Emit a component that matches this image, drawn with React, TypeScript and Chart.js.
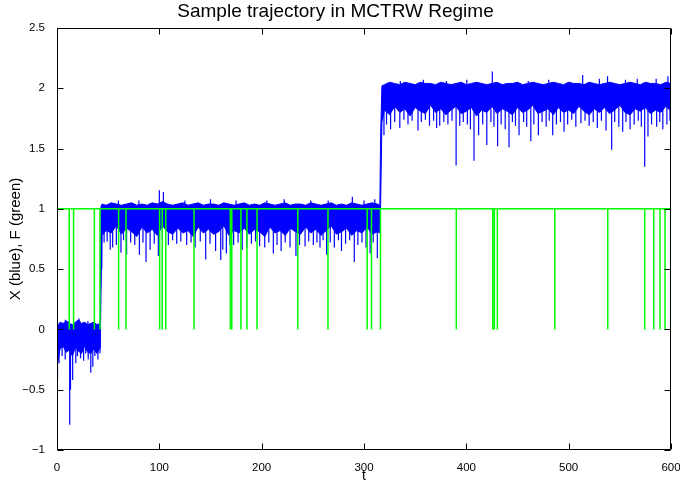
import React, { useEffect, useRef } from 'react';
import { Chart, registerables } from 'chart.js';

Chart.register(...registerables);

const titleText = 'Sample trajectory in MCTRW Regime';
const xLabel = 't';
const yLabel = 'X (blue), F (green)';
const xTicks = [0, 100, 200, 300, 400, 500, 600];
const yTicks = [-1, -0.5, 0, 0.5, 1, 1.5, 2, 2.5];

// X(t): band envelope, regime around 0
const lowT = [0, 3, 6, 9, 12, 15, 18, 21, 24, 27, 30, 33, 36, 39, 42.3];
const lowHi = [0.02, 0.06, 0.05, 0.07, 0.05, 0.04, 0.06, 0.08, 0.05, 0.06, 0.04, 0.05, 0.06, 0.04, 0.05];
const lowLo = [-0.3, -0.16, -0.14, -0.19, -0.17, -0.22, -0.15, -0.18, -0.2, -0.14, -0.19, -0.2, -0.16, -0.2, -0.15];

// regime around 1
const midT = [
  44, 48, 53, 58, 63, 68, 73, 78, 83, 88,
  93, 98, 103, 108, 113, 118, 123, 128, 133, 138,
  143, 148, 153, 158, 163, 168, 173, 178, 183, 188,
  193, 198, 203, 208, 213, 218, 223, 228, 233, 238,
  243, 248, 253, 258, 263, 268, 273, 278, 283, 288,
  293, 298, 303, 308, 313, 315.5,
];
const midHi = [
  1.04, 1.03, 1.05, 1.04, 1.03, 1.04, 1.05, 1.03, 1.04, 1.03,
  1.05, 1.04, 1.06, 1.04, 1.03, 1.04, 1.05, 1.03, 1.04, 1.05,
  1.03, 1.04, 1.04, 1.03, 1.05, 1.04, 1.03, 1.04, 1.05, 1.03,
  1.04, 1.03, 1.05, 1.04, 1.03, 1.04, 1.05, 1.03, 1.04, 1.04,
  1.03, 1.05, 1.04, 1.03, 1.04, 1.05, 1.03, 1.04, 1.03, 1.05,
  1.04, 1.03, 1.04, 1.05, 1.04, 1.03,
];
const midLo = [
  0.78, 0.82, 0.8, 0.86, 0.79, 0.84, 0.81, 0.77, 0.85, 0.8,
  0.83, 0.78, 0.86, 0.81, 0.79, 0.84, 0.8, 0.82, 0.77, 0.85,
  0.8, 0.83, 0.79, 0.81, 0.86, 0.78, 0.82, 0.8, 0.84, 0.79,
  0.83, 0.81, 0.77, 0.85, 0.8, 0.82, 0.78, 0.84, 0.81, 0.79,
  0.85, 0.8, 0.83, 0.78, 0.82, 0.86, 0.79, 0.81, 0.84, 0.78,
  0.82, 0.8, 0.85, 0.79, 0.81, 0.8,
];

// regime around 2
const highT = [
  320, 325, 330, 335, 340, 345, 350, 355, 360, 365,
  370, 375, 380, 385, 390, 395, 400, 405, 410, 415,
  420, 425, 430, 435, 440, 445, 450, 455, 460, 465,
  470, 475, 480, 485, 490, 495, 500, 505, 510, 515,
  520, 525, 530, 535, 540, 545, 550, 555, 560, 565,
  570, 575, 580, 585, 590, 595, 600,
];
const highHi = [
  2.03, 2.05, 2.04, 2.03, 2.05, 2.04, 2.03, 2.05, 2.04, 2.04,
  2.03, 2.05, 2.04, 2.03, 2.04, 2.05, 2.03, 2.04, 2.05, 2.04,
  2.03, 2.04, 2.05, 2.03, 2.04, 2.04, 2.05, 2.03, 2.04, 2.05,
  2.04, 2.03, 2.04, 2.05, 2.04, 2.03, 2.05, 2.04, 2.04, 2.03,
  2.05, 2.04, 2.03, 2.04, 2.05, 2.04, 2.03, 2.04, 2.05, 2.04,
  2.03, 2.05, 2.04, 2.04, 2.03, 2.05, 2.04,
];
const highLo = [
  1.82, 1.78, 1.85, 1.8, 1.83, 1.77, 1.84, 1.81, 1.79, 1.86,
  1.8, 1.83, 1.78, 1.82, 1.85, 1.79, 1.81, 1.84, 1.77, 1.82,
  1.8, 1.85, 1.79, 1.83, 1.81, 1.78, 1.84, 1.8, 1.82, 1.86,
  1.79, 1.81, 1.83, 1.78, 1.84, 1.8, 1.82, 1.79, 1.85, 1.81,
  1.78, 1.83, 1.8, 1.84, 1.79, 1.82, 1.86, 1.8, 1.78, 1.83,
  1.81, 1.84, 1.79, 1.82, 1.8, 1.85, 1.81,
];

// jumps between regimes
const jumpT = [43.0, 316.2, 317.5];
const jumpHi = [1.02, 1.6, 2.02];
const jumpLo = [0.3, 1.0, 1.72];

// regimes (start time, typical level) used as spike bases
const regimeStart = [0, 42.5, 316];
const regimeLevel = [-0.05, 0.92, 1.92];

// individual excursions of X
const spikeT = [
  0.5, 2, 5, 8, 12.4, 13.2, 15.3, 18.4, 20, 23, 26, 28, 30.5, 33, 35, 37, 40, 42,
  8.2, 11, 21.5, 30.2,
  43.7, 46, 49, 52, 54.4, 58, 62.5, 65, 68, 72, 76, 80.5, 84, 87, 91, 95, 99, 103,
  108.8, 113, 117, 121, 126.7, 131, 135, 140, 145.3, 149.5, 155, 160, 162, 165.5, 169,
  172.6, 177, 181, 185.5, 190, 194, 198, 203, 207, 211.4, 215, 219, 223, 227.7, 233.5,
  237, 242.4, 246, 250.5, 254, 257, 260, 263.5, 267, 271, 275, 278, 282, 286, 290.5,
  294, 298, 302, 306, 309, 313,
  100, 104, 288.6, 60, 80, 125, 150, 175, 205, 222, 248, 265, 300, 310.5,
  319.5, 322, 326, 330, 335, 339, 343, 347, 352.8, 356, 360, 364, 368, 371, 374, 378,
  382, 386, 390, 393.6, 397, 401, 404, 407.5, 412, 416, 420, 424, 427, 430.6, 434, 438,
  441.7, 445, 448, 451.5, 456, 459, 463, 466, 470.4, 474, 478, 481, 484.4, 488, 492,
  495.5, 499, 503, 507, 512, 516, 520, 524, 528, 532, 536.5, 542, 545, 549, 552.8,
  556, 560, 564, 568, 571, 574.3, 577.5, 581, 586, 589, 592, 596, 599,
  425.4, 358, 513.7, 538, 530, 567, 597, 335.5, 380.5, 400.5, 460.5, 480.5, 555.5, 585.5,
];
const spikeV = [
  -0.42, -0.28, -0.22, -0.25, -0.79, -0.5, -0.42, -0.28, -0.22, -0.24, -0.26, -0.2, -0.25, -0.36, -0.31, -0.22, -0.25, -0.2,
  0.08, 0.07, 0.09, 0.07,
  0.5, 0.72, 0.73, 0.66, 0.68, 0.7, 0.635, 0.74, 0.62, 0.72, 0.7, 0.62, 0.72, 0.56, 0.66, 0.71, 0.61, 0.74,
  0.7, 0.74, 0.71, 0.73, 0.7, 0.72, 0.68, 0.73, 0.58, 0.71, 0.65, 0.575, 0.66, 0.63, 0.7,
  0.7, 0.72, 0.66, 0.68, 0.71, 0.73, 0.69, 0.68, 0.72, 0.63, 0.7, 0.65, 0.72, 0.68, 0.61,
  0.7, 0.69, 0.73, 0.7, 0.72, 0.68, 0.74, 0.62, 0.72, 0.68, 0.74, 0.65, 0.71, 0.74, 0.56,
  0.7, 0.72, 0.68, 0.63, 0.72, 0.59,
  1.155, 1.14, 1.1, 1.07, 1.07, 1.07, 1.08, 1.07, 1.07, 1.08, 1.07, 1.07, 1.07, 1.08,
  1.61, 1.7, 1.66, 1.72, 1.67, 1.74, 1.7, 1.73, 1.65, 1.72, 1.74, 1.69, 1.73, 1.67, 1.69, 1.72,
  1.7, 1.73, 1.36, 1.69, 1.72, 1.7, 1.66, 1.4, 1.61, 1.7, 1.53, 1.72, 1.68, 1.52, 1.7, 1.66,
  1.51, 1.72, 1.69, 1.61, 1.72, 1.68, 1.56, 1.7, 1.61, 1.72, 1.68, 1.73, 1.61, 1.7, 1.72,
  1.64, 1.7, 1.74, 1.68, 1.71, 1.73, 1.69, 1.72, 1.67, 1.73, 1.65, 1.49, 1.72, 1.68, 1.64,
  1.72, 1.66, 1.7, 1.73, 1.68, 1.35, 1.6, 1.7, 1.68, 1.72, 1.66, 1.7, 1.73,
  2.14, 2.07, 2.11, 2.1, 2.08, 2.08, 2.1, 2.06, 2.06, 2.07, 2.06, 2.07, 2.07, 2.08,
];

// F(t): equals 1 except brief drops to 0 at these times
const fHigh = 1;
const fLow = 0;
const dropT = [
  12, 16.2, 36.5, 42, 60.2, 67.4, 100.3, 102.9, 106.3, 133.9,
  169.4, 170.8, 179.7, 185.6, 195.5, 235.3, 264.8, 303.1, 307.3, 316.1,
  390.2, 425.8, 427.4, 430.3, 486.4, 538.2, 574.3, 583.1, 589.3, 594.2,
];

const FONT = '"Liberation Sans", Arial, Helvetica, sans-serif';

function regimeOf(t: number): number {
  let r = 0;
  for (let i = 0; i < regimeStart.length; i++) if (t >= regimeStart[i]) r = i;
  return r;
}

const framePlugin = {
  id: 'matlabFrame',
  afterDraw(chart: any) {
    const { ctx, chartArea: a, scales } = chart;
    ctx.save();
    ctx.strokeStyle = '#000000';
    ctx.lineWidth = 1;
    ctx.setLineDash([]);
    const L = Math.round(a.left) + 0.5;
    const R = Math.round(a.right) - 0.5;
    const T = Math.round(a.top) + 0.5;
    const B = Math.round(a.bottom) - 0.5;
    const seg = (x1: number, y1: number, x2: number, y2: number) => {
      ctx.beginPath();
      ctx.moveTo(x1, y1);
      ctx.lineTo(x2, y2);
      ctx.stroke();
    };
    seg(L, T, R, T);
    seg(R, T, R, B);
    seg(R, B, L, B);
    seg(L, B, L, T);
    const len = 6;
    xTicks.forEach((v) => {
      const px = Math.round(scales.x.getPixelForValue(v)) + 0.5;
      seg(px, B, px, B - len);
      seg(px, T, px, T + len);
    });
    yTicks.forEach((v) => {
      const py = Math.round(scales.y.getPixelForValue(v)) + 0.5;
      seg(L, py, L + len, py);
      seg(R, py, R - len, py);
    });
    ctx.restore();
  },
};

export default function App() {
  const ref = useRef<HTMLCanvasElement>(null);

  useEffect(() => {
    const canvas = ref.current;
    if (!canvas) return;

    type P = { x: number; hi: number; lo: number };
    const band: P[] = [];
    lowT.forEach((t, i) => band.push({ x: t, hi: lowHi[i], lo: lowLo[i] }));
    midT.forEach((t, i) => band.push({ x: t, hi: midHi[i], lo: midLo[i] }));
    highT.forEach((t, i) => band.push({ x: t, hi: highHi[i], lo: highLo[i] }));
    jumpT.forEach((t, i) => band.push({ x: t, hi: jumpHi[i], lo: jumpLo[i] }));
    band.sort((a, b) => a.x - b.x);
    const hiData = band.map((p) => ({ x: p.x, y: p.hi }));
    const loData = band.map((p) => ({ x: p.x, y: p.lo }));

    const spikeData: { x: number; y: number | null }[] = [];
    spikeT.forEach((t, i) => {
      const base = regimeLevel[regimeOf(t)];
      spikeData.push({ x: t, y: base }, { x: t, y: spikeV[i] }, { x: t, y: null });
    });

    const fData: { x: number; y: number }[] = [{ x: xTicks[0], y: fHigh }];
    dropT.forEach((t) => {
      fData.push({ x: t, y: fHigh }, { x: t, y: fLow }, { x: t, y: fHigh });
    });
    fData.push({ x: xTicks[xTicks.length - 1], y: fHigh });

    const chart = new Chart(canvas, {
      type: 'line',
      data: {
        datasets: [
          { label: 'F', data: fData, borderColor: '#00ff00', borderWidth: 1.5, pointRadius: 0, fill: false },
          { label: 'Xspikes', data: spikeData as any, borderColor: '#0000ff', borderWidth: 1.2, pointRadius: 0, fill: false, spanGaps: false },
          { label: 'Xhi', data: hiData, borderColor: '#0000ff', borderWidth: 1, pointRadius: 0, fill: false },
          { label: 'Xlo', data: loData, borderColor: '#0000ff', borderWidth: 1, pointRadius: 0, fill: 2, backgroundColor: '#0000ff' },
        ],
      },
      options: {
        responsive: false,
        animation: false,
        devicePixelRatio: 1,
        layout: { padding: { left: 0, right: 9, top: 0, bottom: 0 } },
        elements: { line: { tension: 0 }, point: { radius: 0 } },
        plugins: {
          legend: { display: false },
          tooltip: { enabled: false },
          title: {
            display: true,
            text: titleText,
            color: '#000',
            font: { family: FONT, size: 19, weight: 'normal' },
            padding: { top: 0, bottom: 5.2 },
          },
        },
        scales: {
          x: {
            type: 'linear',
            min: 0,
            max: 600,
            afterBuildTicks: (s: any) => {
              s.ticks = xTicks.map((v) => ({ value: v }));
            },
            afterFit: (s: any) => {
              s.height = 37;
              s.paddingLeft = 0;
              s.paddingRight = 0;
            },
            grid: { display: false },
            border: { display: false },
            ticks: {
              color: '#000',
              font: { family: FONT, size: 11.5 },
              padding: 3,
              maxRotation: 0,
              autoSkip: false,
            },
            title: {
              display: true,
              text: xLabel,
              color: '#000',
              font: { family: FONT, size: 14 },
              padding: { top: 0, bottom: 2.8 },
            },
          },
          y: {
            type: 'linear',
            min: -1,
            max: 2.5,
            afterBuildTicks: (s: any) => {
              s.ticks = yTicks.map((v) => ({ value: v }));
            },
            afterFit: (s: any) => {
              s.width = 57;
              s.paddingTop = 0;
              s.paddingBottom = 0;
            },
            grid: { display: false },
            border: { display: false },
            ticks: {
              color: '#000',
              font: { family: FONT, size: 11.5 },
              padding: 4,
              autoSkip: false,
              callback: (v: any) => String(v).replace('-', '\u2212'),
            },
            title: {
              display: true,
              text: yLabel,
              color: '#000',
              font: { family: FONT, size: 15 },
              padding: { top: 6.5, bottom: 0 },
            },
          },
        },
      },
      plugins: [framePlugin],
    });

    return () => chart.destroy();
  }, []);

  return (
    <div style={{ position: 'absolute', left: 0, top: 0, width: 680, height: 487, background: '#fff' }}>
      <canvas ref={ref} width={680} height={487} style={{ display: 'block' }} />
    </div>
  );
}
